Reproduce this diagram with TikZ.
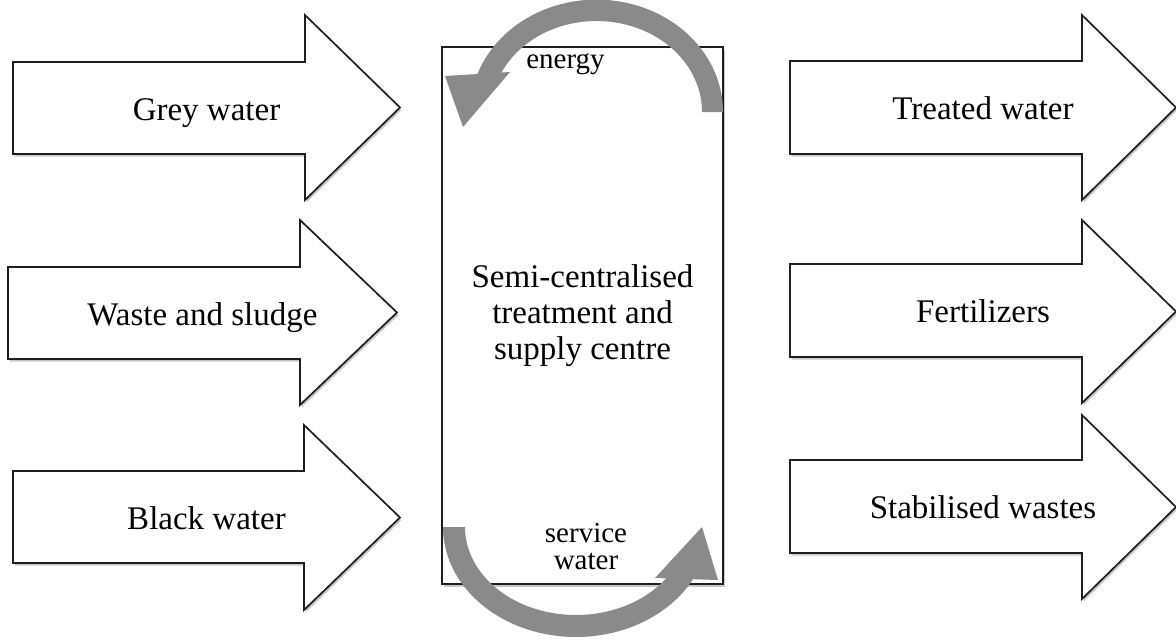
\documentclass[tikz,border=0pt]{standalone}
\usepackage{fontspec}
\setmainfont{Liberation Serif}
\usetikzlibrary{shadows}
\definecolor{loopgray}{RGB}{138,138,138}
\definecolor{edgeink}{RGB}{30,30,30}
\tikzset{
  softshadow/.style={drop shadow={shadow xshift=1.5pt, shadow yshift=-2.5pt, opacity=0.22, fill=black}},
  flow/.style={draw=edgeink, line width=1.7pt, fill=white, line join=miter, softshadow},
  lbl/.style={font=\fontsize{33}{36}\selectfont, align=center, inner sep=0pt},
  smalllbl/.style={font=\fontsize{29}{27}\selectfont, align=center, inner sep=0pt},
  hub/.style={draw=edgeink, line width=1.2pt, fill=white, softshadow, inner sep=0pt,
              font=\fontsize{33}{36}\selectfont, align=center},
  loop/.style={fill=loopgray, draw=none},
}
% block arrow: #1 name, #2 left x, #3 shaft top, #4 shaft bottom,
% #5 head base x, #6 head top, #7 head bottom, #8 tip x, #9 label
\newcommand\flowarrow[9]{%
  \path[flow] (#2,#3) -- (#5,#3) -- (#5,#6) -- (#8,{(#6+#7)/2}) -- (#5,#7)
     -- (#5,#4) -- (#2,#4) -- cycle;
  \node[lbl, anchor=base] (#1) at ({(#2+#8)/2},{(#3+#4)/2+12}) {#9};
}
\begin{document}
\begin{tikzpicture}[x=1pt, y=-1pt]
\useasboundingbox (0,0) rectangle (1176,641);

% inflows
\flowarrow{grey}{13}{62}{154}{305}{15}{200}{400}{Grey water}
\flowarrow{waste}{8}{267}{359}{300}{220}{405}{397}{Waste and sludge}
\flowarrow{black}{13}{471}{563}{304}{425}{610}{400}{Black water}

% outflows
\flowarrow{treated}{790}{61}{154}{1082}{15}{200}{1176}{Treated water}
\flowarrow{fert}{790}{264}{357}{1082}{220}{403}{1176}{Fertilizers}
\flowarrow{stab}{790}{460}{553}{1082}{415}{599}{1176}{Stabilised wastes}

% treatment centre
\node[hub, minimum width=281pt, minimum height=537pt] (centre) at (582.5,315.5)
  {Semi-centralised\\treatment and\\supply centre};

% energy loop over the top
\fill[loop] plot[domain=0:161, samples=70] ({596.5+126.5*cos(\x)}, {112-112.4*sin(\x)})
  -- plot[domain=161:0, samples=70] ({596.5+105.5*cos(\x)}, {112-91*sin(\x)}) -- cycle;
\fill[loop] (445,76) -- (510,72) -- (463,127) -- cycle;
\node[smalllbl, anchor=base] (energy) at (565.5,68) {energy};

% service water loop under the bottom
\fill[loop] plot[domain=180:27, samples=70] ({576+133*cos(\x)}, {527+110*sin(\x)})
  -- plot[domain=27:180, samples=70] ({576+111*cos(\x)}, {527+88*sin(\x)}) -- cycle;
\fill[loop] (655,578) -- (718,580) -- (702,527) -- cycle;
\node[smalllbl] (service) at (586,547) {service\\water};
\end{tikzpicture}
\end{document}
